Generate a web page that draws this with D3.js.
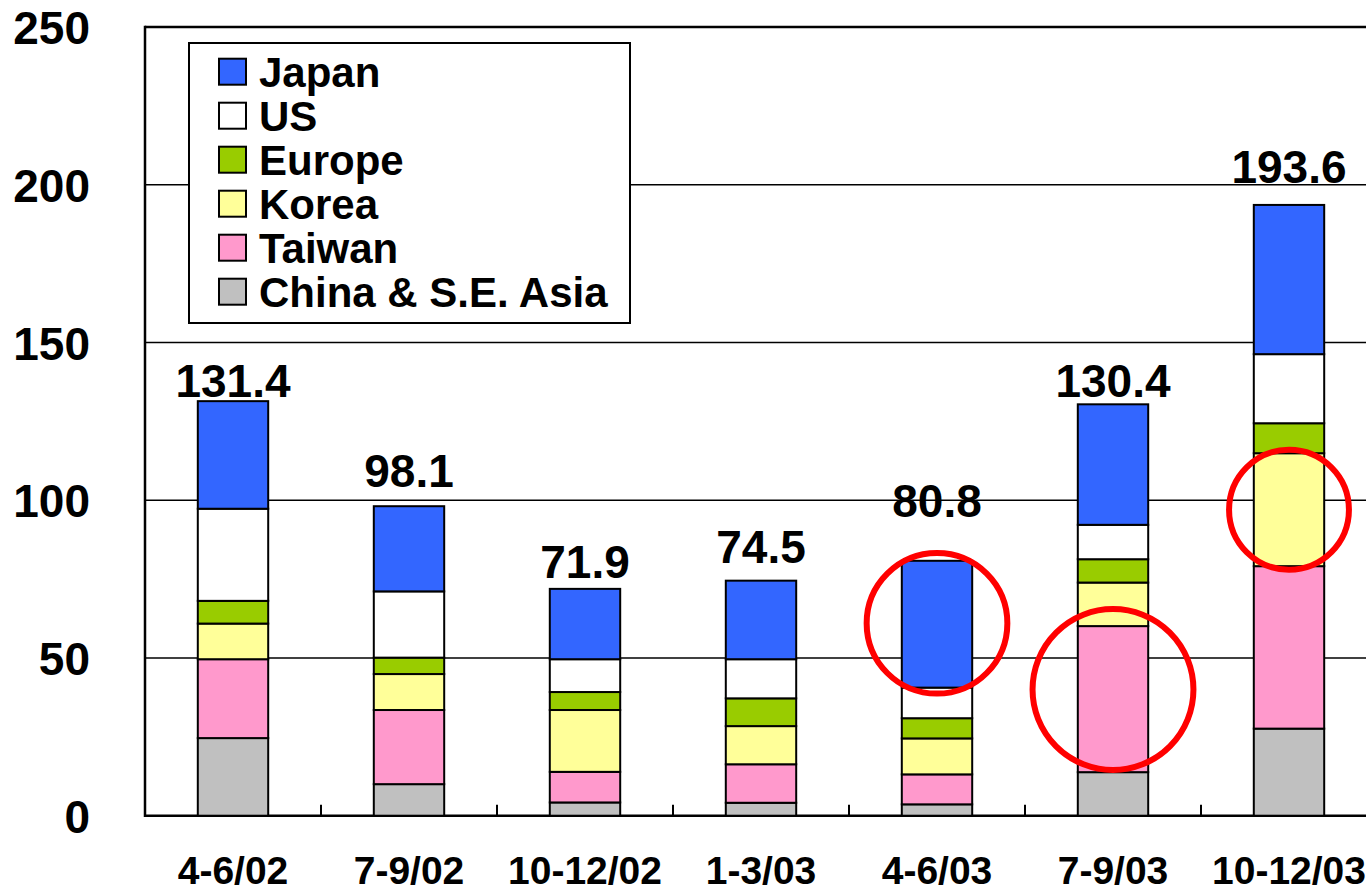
<!DOCTYPE html>
<html>
<head>
<meta charset="utf-8">
<script src="https://cdn.jsdelivr.net/npm/d3@7"></script>
<style>
  html, body { margin: 0; padding: 0; background: #fff; }
  svg { display: block; }
  text { font-family: "Liberation Sans", Arial, sans-serif; font-weight: bold; fill: #000; }
</style>
</head>
<body>
<svg id="chart" width="1366" height="893"></svg>
<script>
// ---- data ----
const categories = ["4-6/02", "7-9/02", "10-12/02", "1-3/03", "4-6/03", "7-9/03", "10-12/03"];
const seriesNames = ["China & S.E. Asia", "Taiwan", "Korea", "Europe", "US", "Japan"];
const china  = [24.6, 10.0,  4.2,  4.1,  3.6, 13.8, 27.6];
const taiwan = [25.0, 23.5,  9.7, 12.2,  9.5, 46.3, 51.5];
const korea  = [11.3, 11.4, 19.6, 12.1, 11.4, 13.8, 35.8];
const europe = [ 7.2,  5.2,  5.7,  8.8,  6.4,  7.4,  9.5];
const us     = [29.2, 21.0, 10.4, 12.4,  9.7, 10.9, 21.9];
const japan  = [34.1, 27.0, 22.3, 24.9, 40.2, 38.2, 47.3];
const totals = [131.4, 98.1, 71.9, 74.5, 80.8, 130.4, 193.6];
const totalLabels = ["131.4", "98.1", "71.9", "74.5", "80.8", "130.4", "193.6"];
const yTicks = [0, 50, 100, 150, 200, 250];
const legendOrder = ["Japan", "US", "Europe", "Korea", "Taiwan", "China & S.E. Asia"];
// highlighted segments (category, centre value, radius in value units)
const highlightCats = ["4-6/03", "7-9/03", "10-12/03"];
const highlightVals = [61, 40, 97];
const highlightRads = [22.3, 25.5, 19];

// ---- style ----
const colors = {
  "Japan": "#3366FF", "US": "#FFFFFF", "Europe": "#99CC00",
  "Korea": "#FFFF99", "Taiwan": "#FF99CC", "China & S.E. Asia": "#C0C0C0"
};
// label baseline offsets above bar tops (value units), as placed in the original
const labelLift = [1.4, 6.0, 3.6, 5.6, 13.9, 2.4, 7.0];

const svg = d3.select("#chart");
const x = d3.scaleBand().domain(categories).range([145, 1377]).paddingInner(0.6).paddingOuter(0.3);
const y = d3.scaleLinear().domain([0, 250]).range([815.7, 27]);

const seriesArrays = [china, taiwan, korea, europe, us, japan];
const table = categories.map((c, i) => {
  const row = { cat: c };
  seriesNames.forEach((s, k) => row[s] = seriesArrays[k][i]);
  return row;
});
const stacked = d3.stack().keys(seriesNames)(table);

// gridlines
svg.append("g").selectAll("line").data(yTicks.filter(t => t > 0 && t < 250)).join("line")
  .attr("x1", 145).attr("x2", 1366)
  .attr("y1", d => y(d)).attr("y2", d => y(d))
  .attr("stroke", "#000").attr("stroke-width", 1.5);

// top frame
svg.append("line").attr("x1", 145).attr("x2", 1366).attr("y1", y(250)).attr("y2", y(250))
  .attr("stroke", "#000").attr("stroke-width", 2.5);

// x axis
const xAxis = d3.axisBottom(x).tickSize(0).tickPadding(0);
const gx = svg.append("g").attr("transform", `translate(0,${y(0)})`).call(xAxis);
gx.select(".domain").remove();
gx.selectAll("text").attr("dy", null).attr("y", 68.5)
  .style("font-size", "39px").style("font-family", "'Liberation Sans', Arial, sans-serif").style("font-weight", "bold");
// category boundary ticks (inside)
const gap = (x.step() - x.bandwidth()) / 2;
svg.append("g").selectAll("line").data(categories.slice(1)).join("line")
  .attr("x1", d => x(d) - gap).attr("x2", d => x(d) - gap)
  .attr("y1", y(0)).attr("y2", y(0) - 11)
  .attr("stroke", "#000").attr("stroke-width", 2);
svg.append("line").attr("x1", 145).attr("x2", 1366).attr("y1", y(0)).attr("y2", y(0))
  .attr("stroke", "#000").attr("stroke-width", 2.5);

// y axis
const yAxis = d3.axisLeft(y).tickValues(yTicks).tickSize(0).tickPadding(0);
const gy = svg.append("g").attr("transform", "translate(145,0)").call(yAxis);
gy.select(".domain").remove();
gy.selectAll("text").attr("x", -55).attr("dy", "0.36em")
  .style("font-size", "46px").style("font-family", "'Liberation Sans', Arial, sans-serif").style("font-weight", "bold");
svg.append("line").attr("x1", 145).attr("x2", 145).attr("y1", y(250) - 1.2).attr("y2", y(0) + 1.2)
  .attr("stroke", "#000").attr("stroke-width", 2.5);

// bars
svg.append("g").selectAll("g").data(stacked).join("g")
  .attr("fill", d => colors[d.key])
  .selectAll("rect").data(d => d).join("rect")
  .attr("x", d => x(d.data.cat))
  .attr("width", x.bandwidth())
  .attr("y", d => y(d[1]))
  .attr("height", d => y(d[0]) - y(d[1]))
  .attr("stroke", "#000").attr("stroke-width", 2);

// total labels
svg.append("g").selectAll("text").data(categories).join("text")
  .attr("x", d => x(d) + x.bandwidth() / 2)
  .attr("y", (d, i) => y(totals[i] + labelLift[i]))
  .attr("text-anchor", "middle")
  .style("font-size", "46px")
  .text((d, i) => totalLabels[i]);

// highlight circles
svg.append("g").selectAll("circle").data(highlightCats).join("circle")
  .attr("cx", d => x(d) + x.bandwidth() / 2)
  .attr("cy", (d, i) => y(highlightVals[i]))
  .attr("r", (d, i) => y(0) - y(highlightRads[i]))
  .attr("fill", "none").attr("stroke", "#FF0000").attr("stroke-width", 6);

// legend
const lg = svg.append("g").attr("transform", "translate(189,43)");
lg.append("rect").attr("width", 441).attr("height", 280)
  .attr("fill", "#fff").attr("stroke", "#000").attr("stroke-width", 2);
const items = lg.selectAll("g.item").data(legendOrder).join("g")
  .attr("class", "item")
  .attr("transform", (d, i) => `translate(30,${28.7 + i * 44})`);
items.append("rect").attr("x", 0).attr("y", -13).attr("width", 27).attr("height", 26)
  .attr("fill", d => colors[d]).attr("stroke", "#000").attr("stroke-width", 2);
items.append("text").attr("x", 40).attr("y", 15).style("font-size", "42px").text(d => d);
</script>
</body>
</html>
